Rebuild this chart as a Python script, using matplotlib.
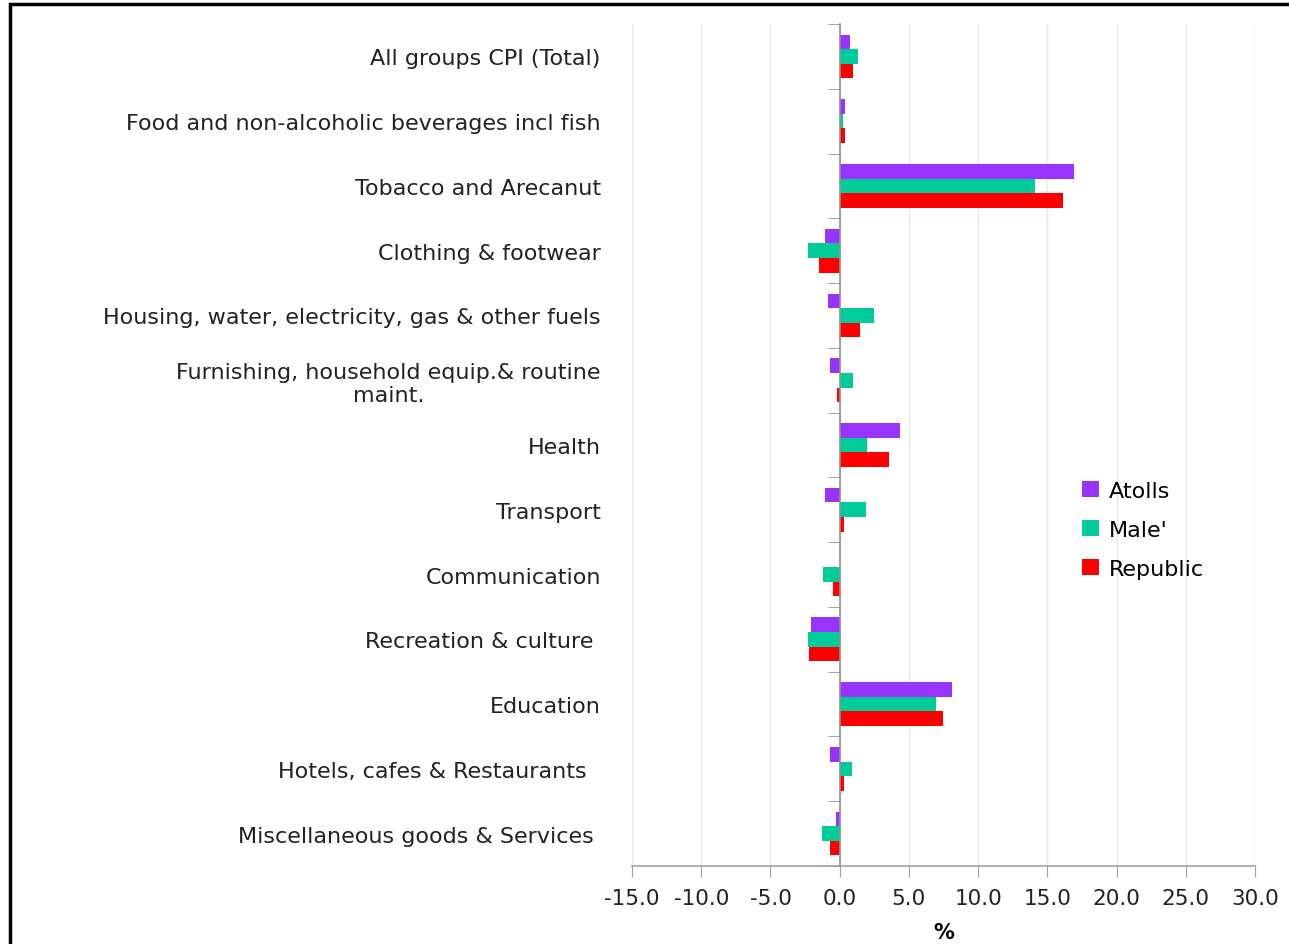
import numpy as np
import matplotlib; matplotlib.use("Agg")
import matplotlib.pyplot as plt
from matplotlib.patches import Rectangle

categories = [
    "All groups CPI (Total)",
    "Food and non-alcoholic beverages incl fish",
    "Tobacco and Arecanut",
    "Clothing & footwear",
    "Housing, water, electricity, gas & other fuels",
    "Furnishing, household equip.& routine\nmaint.",
    "Health",
    "Transport",
    "Communication",
    "Recreation & culture ",
    "Education",
    "Hotels, cafes & Restaurants  ",
    "Miscellaneous goods & Services ",
]
atolls   = [0.74, 0.40, 16.9, -1.06, -0.82, -0.72, 4.37, -1.06, 0.0, -2.07, 8.10, -0.72, -0.24]
male     = [1.32, 0.25, 14.1, -2.28, 2.45, 0.96, 2.00, 1.90, -1.18, -2.28, 6.97, 0.87, -1.27]
republic = [0.96, 0.40, 16.1, -1.49, 1.44, -0.17, 3.58, 0.31, -0.48, -2.19, 7.43, 0.31, -0.72]
series = [("Atolls", atolls, "#9933FF"), ("Male'", male, "#00CC99"), ("Republic", republic, "#FF0000")]
xticks = np.arange(-15, 31, 5)

plt.rcParams["font.family"] = ["DejaVu Sans"]
fig = plt.figure(figsize=(12.89, 9.45), dpi=100)
ax = fig.add_axes([632/1289, 1-867/945, 623/1289, 842/945])

y = np.arange(len(categories))
h = 0.225
for k, (name, vals, col) in enumerate(series):
    ax.barh(y + (k-1)*h, vals, height=h, color=col, label=name, zorder=3)

ax.set_xlim(-15, 30)
ax.set_ylim(len(categories)-0.5, -0.5)
ax.set_xticks(xticks)
ax.set_xticklabels([f"{v:.1f}" for v in xticks], fontsize=15.5, color="#222222")
ax.grid(axis="x", color="#E6E6E6", lw=1, zorder=0)
ax.set_xlabel("%", fontsize=15, fontweight="bold", labelpad=10)

for s in ["top", "right"]:
    ax.spines[s].set_visible(False)
ax.spines["left"].set_position(("data", 0))
ax.spines["left"].set_color("#909090"); ax.spines["left"].set_linewidth(1.2)
ax.spines["left"].set_zorder(4)
ax.spines["bottom"].set_color("#A0A0A0"); ax.spines["bottom"].set_linewidth(1.2)
ax.tick_params(axis="x", direction="out", length=8, color="#A0A0A0", pad=8)

ax.set_yticks(y)
ax.set_yticklabels(categories, fontsize=16, color="#222222")
for lab in ax.get_yticklabels():
    lab.set_multialignment("center")
ax.set_yticks(np.arange(len(categories)+1)-0.5, minor=True)
ax.tick_params(axis="y", which="major", length=0, pad=172)
ax.tick_params(axis="y", which="minor", direction="out", length=9, color="#909090")

ax.legend(loc="upper left", bbox_to_anchor=(1062/1289, 1-462/945), bbox_transform=fig.transFigure,
          frameon=False, fontsize=16, handlelength=0.75, handleheight=0.7, labelspacing=0.85, handletextpad=0.45)

fig.patches.append(Rectangle((10/1289, -0.1), 1.2, 1.1-5/945, transform=fig.transFigure,
                             fill=False, edgecolor="black", lw=2.5))
fig.savefig("out.png", dpi=100)
